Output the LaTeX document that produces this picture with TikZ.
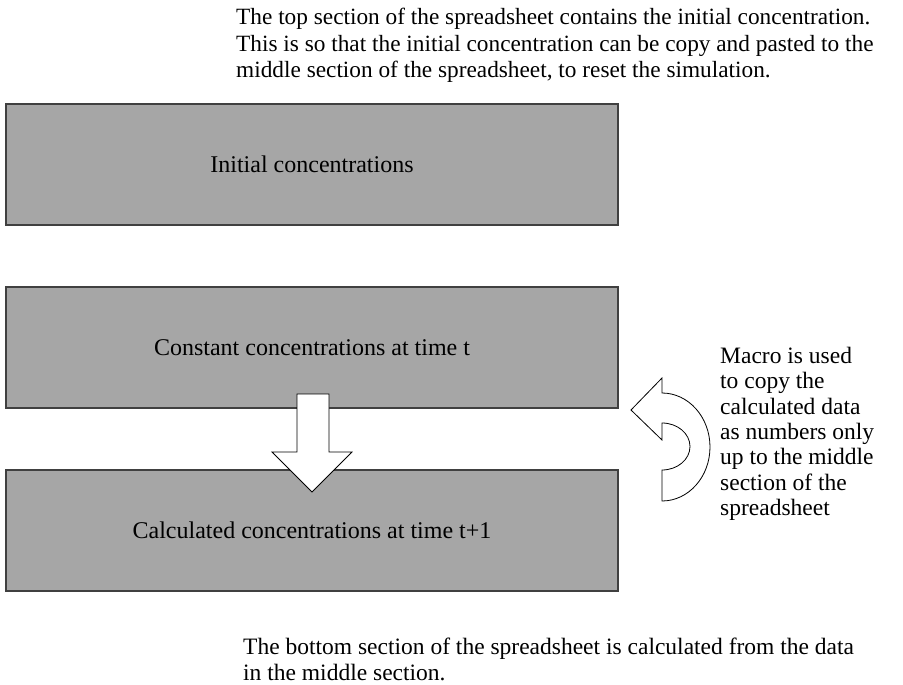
\documentclass[tikz,border=0pt]{standalone}
\usepackage{fontspec}
\setmainfont{Liberation Serif}

\begin{document}
\begin{tikzpicture}[x=1pt,y=-1pt,
    section/.style={draw=black!75,line width=1.2pt,fill=black!35,
        minimum width=612pt,minimum height=121pt,inner sep=0pt,
        font=\fontsize{24}{25.3}\selectfont},
    note/.style={align=left,anchor=north west,inner sep=0pt,
        font=\fontsize{23.3}{26.5}\selectfont},
    blockarrow/.style={draw=black,line width=0.8pt,fill=white,line join=miter}]

    \useasboundingbox (0,0) rectangle (903,685);

    \node[note] (topnote) at (236,8) {The top section of the spreadsheet contains the initial concentration.\\
        This is so that the initial concentration can be copy and pasted to the\\
        middle section of the spreadsheet, to reset the simulation.};

    \node[section] (init) at (312,164.5) {Initial concentrations};
    \node[section] (const) at (312,347.5) {Constant concentrations at time t};
    \node[section] (calc) at (312,530.5) {Calculated concentrations at time t+1};

    % copy down from time t to time t+1
    \draw[blockarrow] (297,394) -- (329,394) -- (329,452) -- (352,452) -- (312,492)
        -- (272,452) -- (297,452) -- cycle;

    % macro copies the results back up
    \draw[blockarrow] (631,410) -- (662,378) -- (662,393)
        arc[start angle=-90,end angle=90,x radius=48,y radius=54]
        -- (662,470)
        arc[start angle=90,end angle=-90,x radius=28,y radius=23.5]
        -- (662,440) -- cycle;

    \node[note,font=\fontsize{23.5}{25.3}\selectfont] (macronote) at (720,347) {Macro is used\\
        to copy the\\
        calculated data\\
        as numbers only\\
        up to the middle\\
        section of the\\
        spreadsheet};

    \node[note,font=\fontsize{23.5}{25.3}\selectfont] (bottomnote) at (243,638) {The bottom section of the spreadsheet is calculated from the data\\
        in the middle section.};
\end{tikzpicture}
\end{document}
